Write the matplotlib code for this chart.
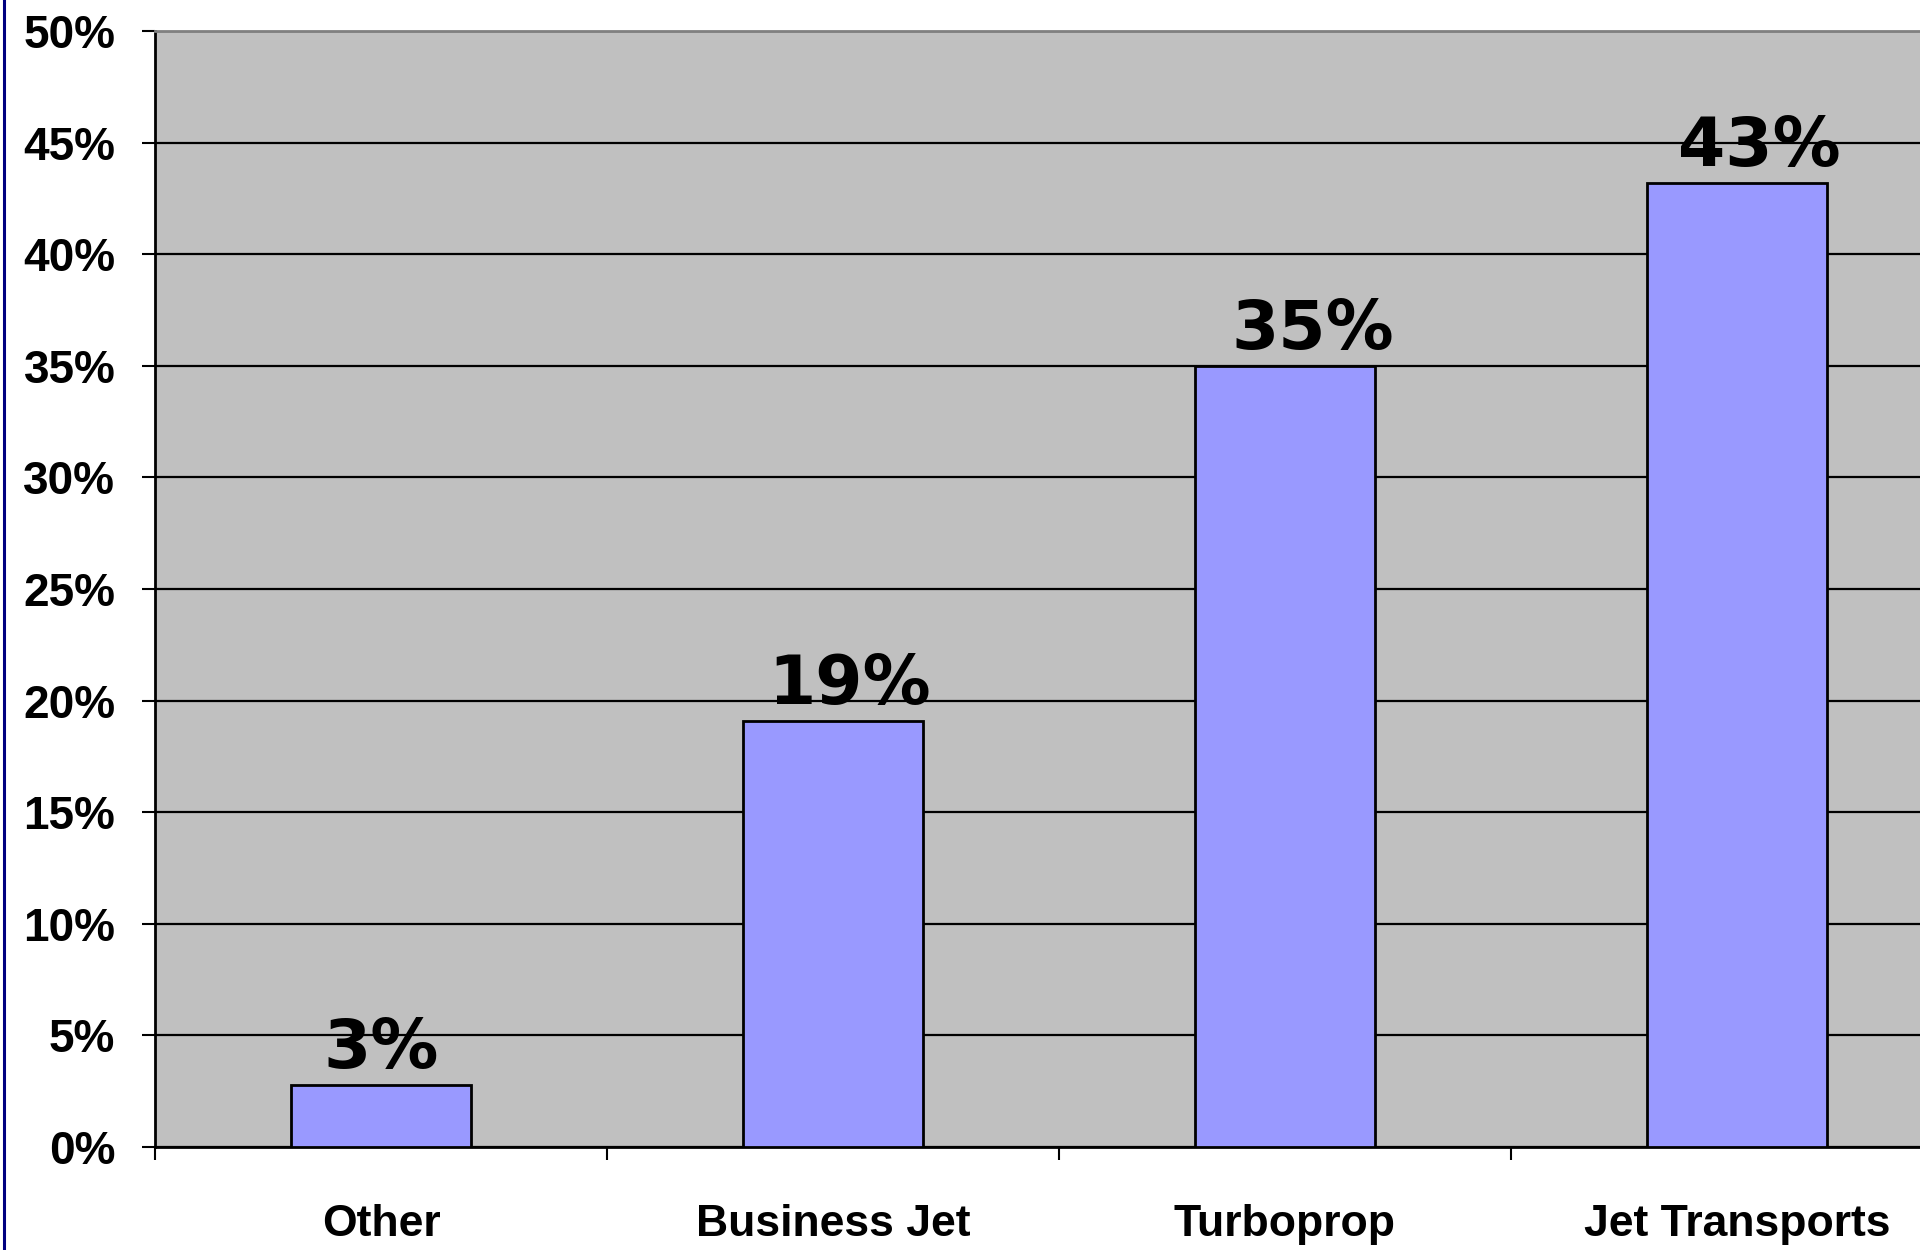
import matplotlib
matplotlib.use("Agg")
import matplotlib.pyplot as plt
from matplotlib.lines import Line2D

categories = ["Other", "Business Jet", "Turboprop", "Jet Transports"]
values = [2.8, 19.1, 35.0, 43.2]
bar_labels = ["3%", "19%", "35%", "43%"]
yticks = [0, 5, 10, 15, 20, 25, 30, 35, 40, 45, 50]
ytick_labels = [f"{v}%" for v in yticks]

# horizontal nudges of the value labels (points), as seen in the reference
label_dx = [0, 12, 20, 16]

W, H = 1920, 1250
fig = plt.figure(figsize=(W / 100, H / 100), dpi=100)
left, bottom, top, right = 155, 1147, 31, 155 + 4 * 452
ax = fig.add_axes([left / W, 1 - bottom / H, (right - left) / W, (bottom - top) / H])
ax.set_facecolor("#C0C0C0")

x = list(range(len(categories)))
ax.bar(x, values, width=0.4, color="#9999FF", edgecolor="black", linewidth=2, zorder=3)

ax.set_xlim(-0.5, len(categories) - 0.5)
ax.set_ylim(0, 50)
ax.set_yticks(yticks)
ax.set_yticklabels(ytick_labels)
ax.yaxis.grid(True, color="black", linewidth=1.6, zorder=1)
ax.set_axisbelow(True)

ax.set_xticks([i - 0.5 for i in range(len(categories) + 1)])
ax.set_xticklabels([""] * (len(categories) + 1))
ax.set_xticks(x, minor=True)
ax.set_xticklabels(categories, minor=True)
ax.tick_params(axis="x", which="minor", length=0, pad=41)
ax.tick_params(axis="x", which="major", length=9.5, width=1.5, direction="out")
ax.tick_params(axis="y", length=9.5, width=1.5, direction="out", pad=19)

for lab in ax.get_yticklabels():
    lab.set_fontfamily("Liberation Sans")
    lab.set_fontweight("bold")
    lab.set_fontsize(33)
for lab in ax.get_xticklabels(minor=True):
    lab.set_fontfamily("Liberation Sans")
    lab.set_fontweight("bold")
    lab.set_fontsize(32)

for s in ["left", "bottom"]:
    ax.spines[s].set_color("black")
    ax.spines[s].set_linewidth(2)
ax.spines["top"].set_color("#808080")
ax.spines["top"].set_linewidth(2)
ax.spines["right"].set_visible(False)

for xi, v, t, dx in zip(x, values, bar_labels, label_dx):
    ax.annotate(t, (xi, v), xytext=(dx, 12), textcoords="offset points",
                ha="center", va="baseline", fontsize=49, fontweight="bold",
                fontfamily="DejaVu Sans", color="black", zorder=4)

fig.add_artist(Line2D([3.5 / W, 3.5 / W], [0, 1], color="#000080", linewidth=2.2,
                      transform=fig.transFigure))

fig.savefig("out.png", dpi=100)
